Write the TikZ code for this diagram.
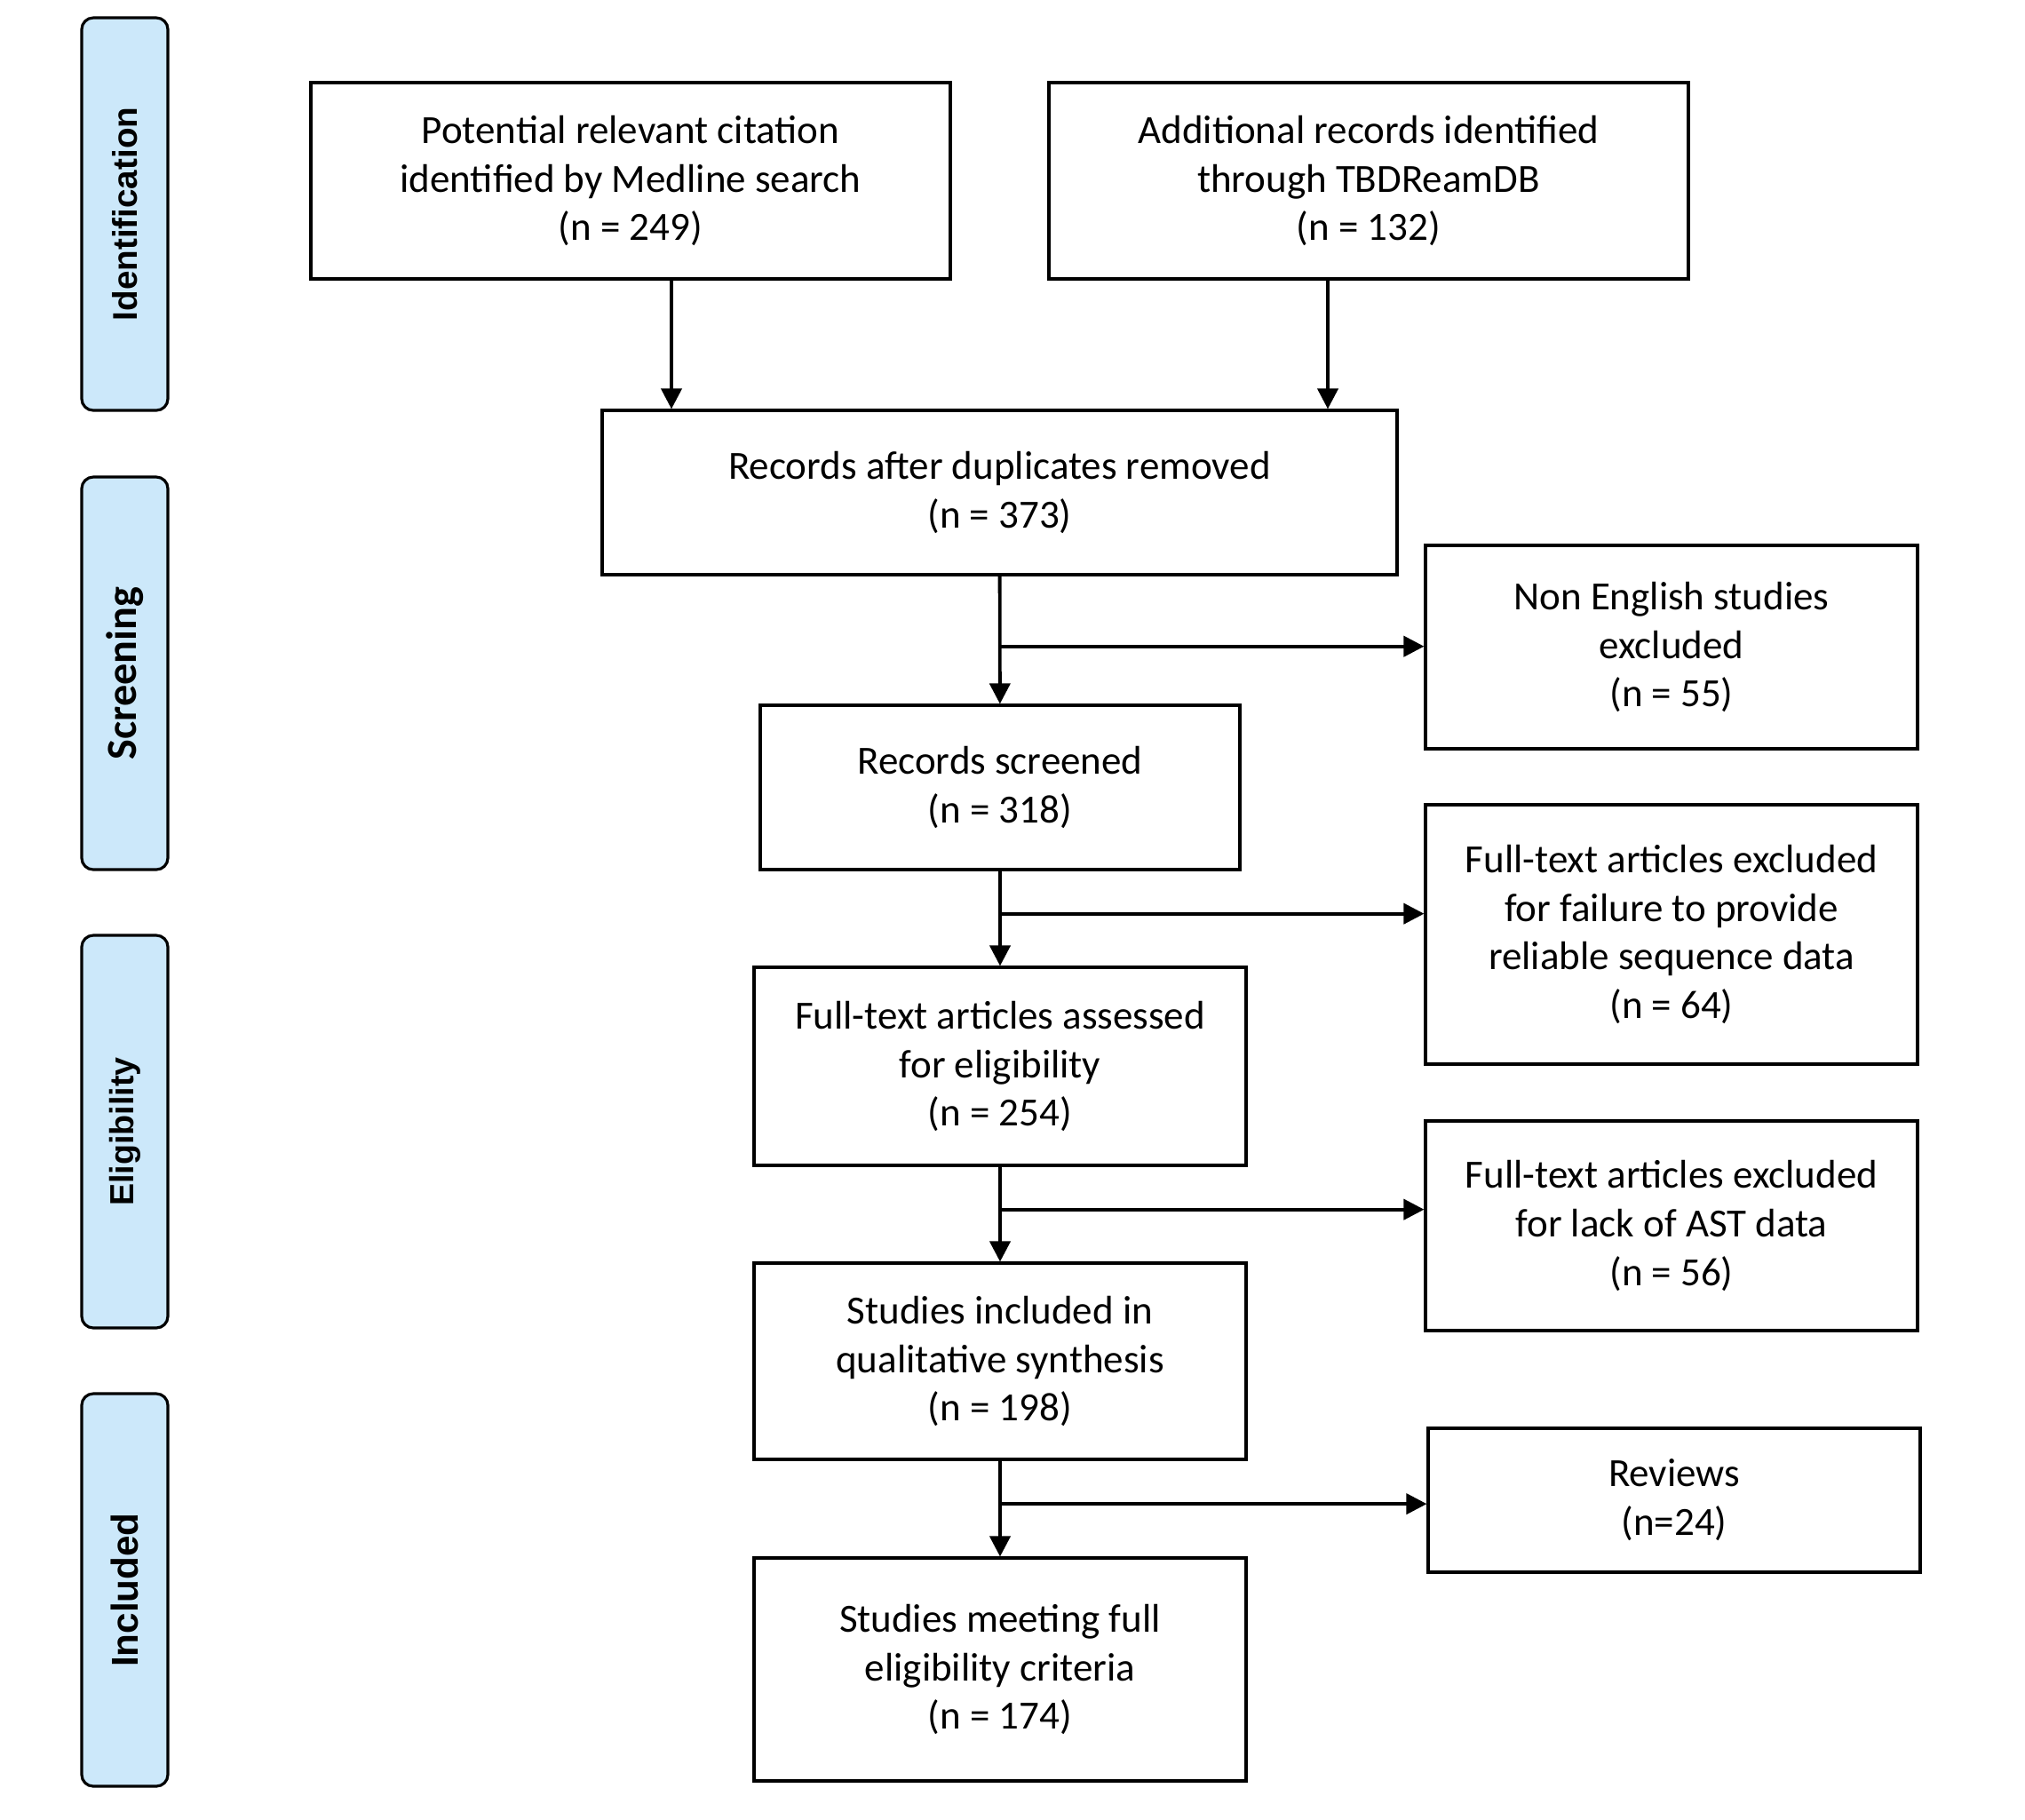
\documentclass[tikz,border=0pt]{standalone}
\usepackage{fontspec}
\setmainfont{Carlito}
\newfontfamily\bandfont{Liberation Sans}
\usepackage{tikz}
\usetikzlibrary{arrows.meta,calc}
\definecolor{bandblue}{HTML}{CCE8FA}
\tikzset{
  pbox/.style   ={draw, line width=0.9pt, align=center, inner sep=2pt,
                  font=\fontsize{12.8}{15.6}\selectfont},
  pmain/.style  ={pbox, minimum width=5.54cm},
  pband/.style  ={draw, line width=0.9pt, rounded corners=1.3mm, fill=bandblue,
                  minimum width=0.97cm, minimum height=4.42cm},
  par/.style    ={-{Triangle[length=2.3mm, width=2.3mm]}, line width=1.1pt},
}
\begin{document}
\begin{tikzpicture}
\useasboundingbox (0,0) rectangle (22.8,-20.48);

% phase bands
\node[pband, font=\bandfont\bfseries\fontsize{11}{13}\selectfont] (bid) at (1.405,-2.41)
  {\rotatebox{90}{Identification}};
\node[pband, font=\bfseries\fontsize{13.7}{15}\selectfont] (bscr) at (1.405,-7.58)
  {\rotatebox{90}{Screening}};
\node[pband, font=\bandfont\bfseries\fontsize{10.7}{13}\selectfont] (bel) at (1.405,-12.74)
  {\rotatebox{90}{Eligibility}};
\node[pband, font=\bandfont\bfseries\fontsize{12}{14}\selectfont] (binc) at (1.405,-17.90)
  {\rotatebox{90}{Included}};

% boxes
\node[pbox, minimum width=7.2cm, minimum height=2.21cm] (med) at (7.10,-2.035)
  {Potential relevant citation\\identified by Medline search\\(n = 249)};
\node[pbox, minimum width=7.2cm, minimum height=2.21cm] (tbd) at (15.41,-2.035)
  {Additional records identified\\through TBDReamDB\\(n = 132)};
\node[pbox, minimum width=8.95cm, minimum height=1.85cm] (dup) at (11.255,-5.545)
  {Records after duplicates removed\\(n = 373)};
\node[pbox, minimum width=5.4cm, minimum height=1.85cm] (scr) at (11.26,-8.865)
  {Records screened\\(n = 318)};
\node[pmain, minimum height=2.23cm] (ass) at (11.26,-12.005)
  {Full-text articles assessed\\for eligibility\\(n = 254)};
\node[pmain, minimum height=2.21cm] (inc) at (11.26,-15.325)
  {Studies included in\\qualitative synthesis\\(n = 198)};
\node[pmain, minimum height=2.51cm] (meet) at (11.26,-18.795)
  {Studies meeting full\\eligibility criteria\\(n = 174)};

\node[pmain, minimum height=2.29cm] (noneng) at (18.82,-7.285)
  {Non English studies\\excluded\\(n = 55)};
\node[pmain, minimum height=2.92cm] (exseq) at (18.82,-10.52)
  {Full-text articles excluded\\for failure to provide\\reliable sequence data\\(n = 64)};
\node[pmain, minimum height=2.36cm] (exast) at (18.82,-13.80)
  {Full-text articles excluded\\for lack of AST data\\(n = 56)};
\node[pmain, minimum height=1.62cm] (rev) at (18.85,-16.89)
  {Reviews\\(n=24)};

% arrows
\draw[par] (med.south -| 7.56,0) -- (dup.north -| 7.56,0);
\draw[par] (tbd.south -| 14.95,0) -- (dup.north -| 14.95,0);

\draw[par] (dup) -- (scr);
\draw[par] (scr) -- (ass);
\draw[par] (ass) -- (inc);
\draw[par] (inc) -- (meet);

\coordinate (j1) at ($(dup.south)!0.55!(scr.north)$);
\coordinate (j2) at ($(scr.south)!0.45!(ass.north)$);
\coordinate (j3) at ($(ass.south)!0.45!(inc.north)$);
\coordinate (j4) at ($(inc.south)!0.45!(meet.north)$);
\draw[par] (j1) -- (j1 -| noneng.west);
\draw[par] (j2) -- (j2 -| exseq.west);
\draw[par] (j3) -- (j3 -| exast.west);
\draw[par] (j4) -- (j4 -| rev.west);

\end{tikzpicture}
\end{document}
